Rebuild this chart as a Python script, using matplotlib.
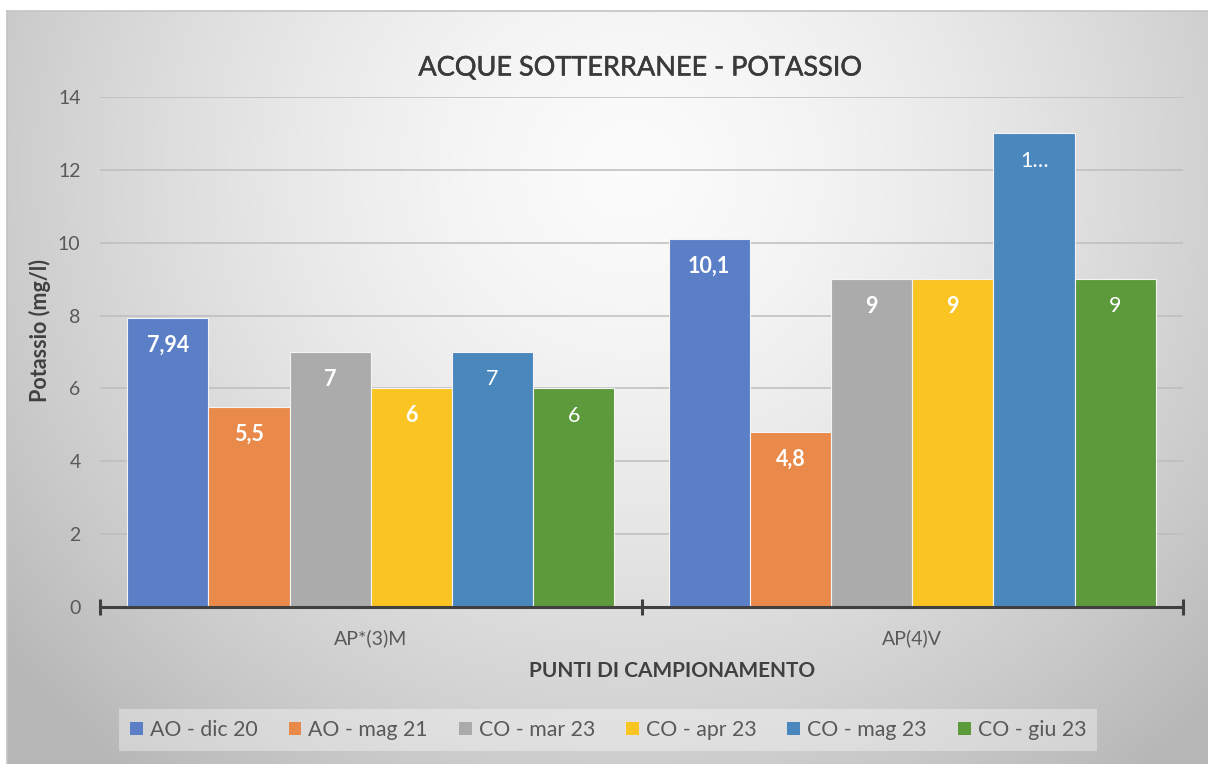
import numpy as np
import matplotlib.pyplot as plt
import matplotlib.patheffects as pe
from matplotlib.patches import Patch
from matplotlib.lines import Line2D

# dati
punti = ["AP*(3)M", "AP(4)V"]
serie = ["AO - dic 20", "AO - mag 21", "CO - mar 23", "CO - apr 23", "CO - mag 23", "CO - giu 23"]
valori = [
    [7.94, 10.1],
    [5.5, 4.8],
    [7, 9],
    [6, 9],
    [7, 13],
    [6, 9],
]
etichette = [
    ["7,94", "10,1"],
    ["5,5", "4,8"],
    ["7", "9"],
    ["6", "9"],
    ["7", "1…"],
    ["6", "9"],
]
colori = ["#5B7FC7", "#E98A4B", "#ABABAB", "#FAC423", "#4A87BD", "#5D9A3C"]
grassetto = [True, True, True, True, False, False]

plt.rcParams.update({"font.family": ["Lato", "DejaVu Sans"], "font.size": 14})

W, H = 1208, 764
fig = plt.figure(figsize=(W / 100, H / 100), dpi=100)
fig.patch.set_facecolor("white")

# --- sfondo sfumato radiale ---
bg = fig.add_axes([7 / W, 0, 1 - 7 / W, 1 - 11 / H], zorder=-10)
yy, xx = np.mgrid[11:H, 7:W]
r = np.sqrt(((xx - 630) / 640.0) ** 2 + ((yy - 170) / 620.0) ** 2)
v = 0.985 - 0.19 * np.clip(r, 0, 1.25) ** 1.5
bg.imshow(np.dstack([v, v, v]), aspect="auto", extent=(0, 1, 0, 1), origin="upper")
bg.set_axis_off()
fig.add_artist(Line2D([7 / W, 1], [1 - 11 / H, 1 - 11 / H], color="#c4c4c4", lw=1.2))
fig.add_artist(Line2D([7 / W, 7 / W], [0, 1 - 11 / H], color="#c4c4c4", lw=1.2))

# --- grafico a barre ---
ax = fig.add_axes([100 / W, 157 / H, 1083 / W, 510 / H])
ax.patch.set_alpha(0)
x = np.arange(len(punti))
w = 0.15
for i, s in enumerate(serie):
    pos = x + (i - 2.5) * w
    ax.bar(pos, valori[i], w, color=colori[i], edgecolor="#f4f4f4", linewidth=0.8,
           label=s, zorder=2)
    for xp, val, lbl in zip(pos, valori[i], etichette[i]):
        ax.annotate(lbl, (xp, val), xytext=(0, -19.5), textcoords="offset points",
                    ha="center", va="center", color="white", fontsize=15.5,
                    fontweight="bold" if grassetto[i] else "normal", zorder=3)

ax.set_xlim(-0.5, 1.5)
ax.set_ylim(0, 14)
ax.set_yticks(np.arange(0, 15, 2))
ax.yaxis.grid(True, color="#bdbdbd", linewidth=1.1)
ax.set_axisbelow(True)
ax.tick_params(axis="y", length=0, pad=14, labelcolor="#595959", labelsize=14)
ax.set_xticks(x)
ax.set_xticklabels(punti)
ax.tick_params(axis="x", which="major", length=0, pad=16, labelcolor="#595959", labelsize=14)
ax.set_xticks([-0.5, 0.5, 1.5], minor=True)
ax.tick_params(axis="x", which="minor", direction="inout", length=11, width=2.2, color="#404040")
for sp in ["top", "right", "left"]:
    ax.spines[sp].set_visible(False)
ax.spines["bottom"].set_color("#404040")
ax.spines["bottom"].set_linewidth(2.2)
ax.spines["bottom"].set_zorder(4)

titolo = fig.text(641 / W, 1 - 68 / H, "ACQUE SOTTERRANEE - POTASSIO", ha="center", va="center",
                  fontsize=19.5, color="#3a3a3a")
titolo.set_path_effects([pe.withStroke(linewidth=0.35, foreground="#3a3a3a")])
fig.text(672 / W, 1 - 671 / H, "PUNTI DI CAMPIONAMENTO", ha="center", va="center",
         fontsize=15, fontweight="bold", color="#404040")
fig.text(40 / W, 1 - 331 / H, "Potassio (mg/l)", ha="center", va="center", rotation=90,
         fontsize=15.5, fontweight="bold", color="#404040")

maniglie = [Patch(facecolor=c, edgecolor="none") for c in colori]
leg = fig.legend(maniglie, serie, ncol=6, loc="center", bbox_to_anchor=(608 / W, 1 - 730 / H),
                 frameon=True, fancybox=False, fontsize=15.3, handlelength=0.61, handleheight=0.61,
                 handletextpad=0.33, columnspacing=1.45, borderpad=0.5)
leg.get_frame().set_facecolor("white")
leg.get_frame().set_alpha(0.35)
leg.get_frame().set_edgecolor("none")
for t in leg.get_texts():
    t.set_color("#595959")

fig.savefig("out.png", dpi=100)
